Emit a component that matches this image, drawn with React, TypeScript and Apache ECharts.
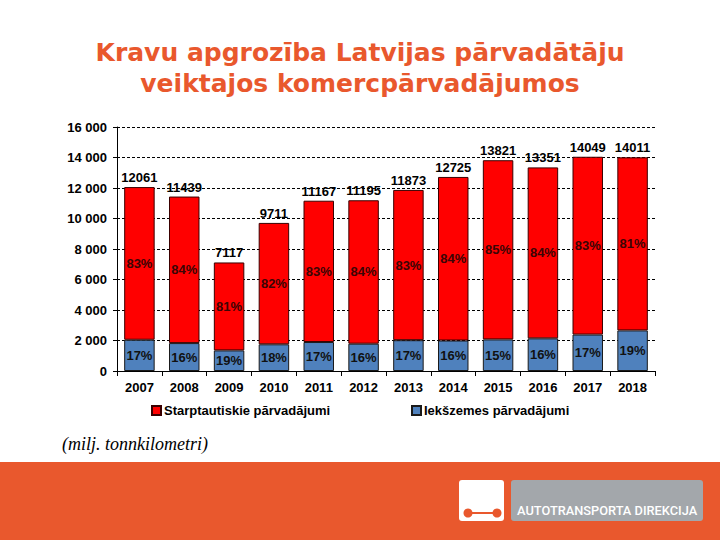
import React, { useEffect, useRef } from "react";
import * as echarts from "echarts";

const years = ["2007", "2008", "2009", "2010", "2011", "2012", "2013", "2014", "2015", "2016", "2017", "2018"];
const totals = [12061, 11439, 7117, 9711, 11167, 11195, 11873, 12725, 13821, 13351, 14049, 14011];
const domestic = [2050, 1830, 1350, 1750, 1900, 1790, 2020, 2000, 2070, 2140, 2390, 2660];
const intlPct = ["83%", "84%", "81%", "82%", "83%", "84%", "83%", "84%", "85%", "84%", "83%", "81%"];
const domPct = ["17%", "16%", "19%", "18%", "17%", "16%", "17%", "16%", "15%", "16%", "17%", "19%"];
const yTicks = [0, 2000, 4000, 6000, 8000, 10000, 12000, 14000, 16000];

const ORANGE = "#E9582D";
const LBL = "'Liberation Sans', Arial, sans-serif";

export default function App() {
  const ref = useRef<HTMLDivElement>(null);
  useEffect(() => {
    if (!ref.current) return;
    const chart = echarts.init(ref.current, null, { renderer: "svg" });
    const international = totals.map((t, i) => t - domestic[i]);
    const labelFont = { fontFamily: LBL, fontWeight: "bold" as const, fontSize: 13 };
    chart.setOption({
      animation: false,
      backgroundColor: "#ffffff",
      grid: { left: 117, right: 65, top: 127, bottom: 169, containLabel: false },
      legend: [
        {
          left: 146,
          top: 399,
          data: ["Starptautiskie pārvadājumi"],
          icon: "rect",
          itemWidth: 9,
          itemHeight: 9,
          itemGap: 4,
          textStyle: { ...labelFont, color: "#000", padding: [0, 0, 0, -2] },
        },
        {
          left: 406,
          top: 399,
          data: ["Iekšzemes pārvadājumi"],
          icon: "rect",
          itemWidth: 9,
          itemHeight: 9,
          itemGap: 4,
          textStyle: { ...labelFont, color: "#000", padding: [0, 0, 0, -2] },
        },
      ],
      xAxis: {
        type: "category",
        data: years,
        axisLine: { lineStyle: { color: "#000", width: 1 } },
        axisTick: { show: true, length: 5, lineStyle: { color: "#000" } },
        axisLabel: { ...labelFont, color: "#000", margin: 10 },
      },
      yAxis: {
        type: "value",
        min: yTicks[0],
        max: yTicks[yTicks.length - 1],
        interval: 2000,
        axisLine: { show: true, lineStyle: { color: "#000", width: 1 } },
        axisTick: { show: true, length: 4, lineStyle: { color: "#000" } },
        splitLine: { show: true, lineStyle: { color: "#000", type: [3, 2], width: 1 } },
        axisLabel: {
          ...labelFont,
          color: "#000",
          margin: 10,
          formatter: (v: number) => (v >= 1000 ? `${Math.floor(v / 1000)} ${String(v % 1000).padStart(3, "0")}` : String(v)),
        },
      },
      series: [
        {
          name: "Iekšzemes pārvadājumi",
          type: "bar",
          stack: "a",
          barWidth: "68%",
          data: domestic,
          itemStyle: { color: "#4F81BD", borderColor: "#1a1a1a", borderWidth: 1 },
          label: {
            show: true,
            position: "inside",
            ...labelFont,
            color: "#111",
            formatter: (p: any) => domPct[p.dataIndex],
          },
        },
        {
          name: "Starptautiskie pārvadājumi",
          type: "bar",
          stack: "a",
          barWidth: "68%",
          data: international,
          itemStyle: { color: "#FF0000", borderColor: "#3a0000", borderWidth: 1 },
          label: {
            show: true,
            position: "inside",
            ...labelFont,
            color: "#3a0505",
            formatter: (p: any) => intlPct[p.dataIndex],
          },
        },
        {
          name: "Kopā",
          type: "bar",
          stack: "a",
          barWidth: "68%",
          data: totals.map(() => 0),
          itemStyle: { color: "transparent" },
          label: {
            show: true,
            position: "top",
            distance: 3,
            ...labelFont,
            color: "#000",
            formatter: (p: any) => String(totals[p.dataIndex]),
          },
        },
      ],
      graphic: [
        {
          type: "text",
          left: "center",
          top: 37,
          style: {
            text: "Kravu apgrozība Latvijas pārvadātāju\nveiktajos komercpārvadājumos",
            font: "bold 25px 'DejaVu Sans', Verdana, sans-serif",
            fill: ORANGE,
            textAlign: "center",
            lineHeight: 31,
          },
        },
        {
          type: "text",
          left: 62,
          top: 435,
          style: {
            text: "(milj. tonnkilometri)",
            font: "italic 18px 'Liberation Serif', 'DejaVu Serif', serif",
            fill: "#000",
          },
        },
        {
          type: "rect",
          shape: { x: 0, y: 462, width: 720, height: 78 },
          style: { fill: ORANGE },
        },
        {
          type: "rect",
          shape: { x: 459, y: 480, width: 45, height: 41, r: 3 },
          style: { fill: "#ffffff" },
        },
        {
          type: "line",
          shape: { x1: 468, y1: 513, x2: 497, y2: 513 },
          style: { stroke: ORANGE, lineWidth: 2 },
        },
        {
          type: "circle",
          shape: { cx: 468, cy: 513, r: 4.5 },
          style: { fill: ORANGE },
        },
        {
          type: "circle",
          shape: { cx: 497, cy: 513, r: 4.5 },
          style: { fill: ORANGE },
        },
        {
          type: "rect",
          shape: { x: 511, y: 480, width: 192, height: 41, r: 3 },
          style: { fill: "#A3A7AB" },
        },
        {
          type: "text",
          x: 517,
          y: 504,
          style: {
            text: "AUTOTRANSPORTA DIREKCIJA",
            font: "500 12.8px Roboto, 'DejaVu Sans', sans-serif",
            fill: "#ffffff",
          },
        },
      ],
    });
    return () => chart.dispose();
  }, []);
  return <div ref={ref} style={{ position: "fixed", left: 0, top: 0, width: 720, height: 540 }} />;
}
